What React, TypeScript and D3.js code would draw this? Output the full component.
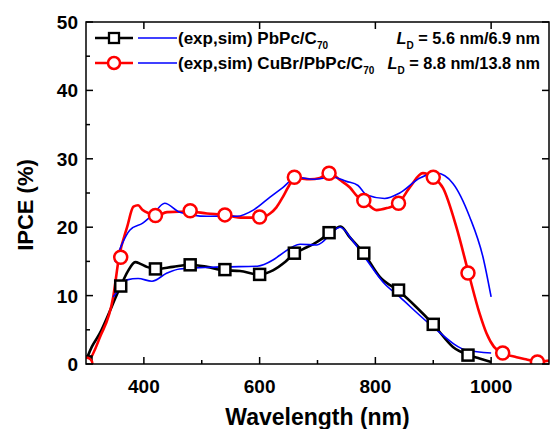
import React from "react";
import * as d3 from "d3";

// ---- Data ----
const blackExpWl = [300, 310, 324, 340, 350, 360, 372, 385, 395, 405, 421, 450, 480, 509, 538, 566, 599, 623, 645, 661, 675, 692, 704, 720, 740, 756, 780, 808, 840, 871, 900, 934, 961, 980, 1000];
const blackExpVal = [0.5, 2.5, 4.5, 7.5, 9.5, 11.4, 13.5, 14.9, 14.6, 14.2, 13.9, 14.2, 14.5, 14.2, 13.7, 13.6, 13.1, 13.7, 15.0, 16.2, 16.8, 17.5, 18.1, 19.1, 20.1, 18.5, 16.2, 12.7, 10.7, 8.3, 5.8, 2.5, 1.3, 0.8, 0.3];

const blackSimWl = [347, 359, 371, 390, 414, 440, 462, 537, 596, 623, 635, 670, 699, 739, 761, 785, 813, 842, 900, 958, 1000];
const blackSimVal = [9.8, 11.1, 12.3, 12.5, 12.1, 13.3, 13.9, 14.2, 14.3, 15.2, 15.9, 17.5, 17.4, 20.0, 18.0, 15.2, 12.0, 9.8, 5.4, 2.0, 1.6];

const redExpWl = [300, 305, 324, 347, 357, 371, 382, 390, 398, 410, 421, 440, 480, 509, 538, 571, 599, 618, 629, 640, 649, 661, 687, 704, 720, 739, 756, 770, 780, 802, 820, 840, 860, 882, 899, 917, 940, 961, 980, 992, 1005, 1020, 1044, 1060, 1080, 1100];
const redExpVal = [0.2, 0.5, 3.9, 9.8, 15.6, 20.0, 23.0, 23.2, 22.5, 22.0, 21.6, 22.2, 22.3, 22.0, 21.8, 21.4, 21.4, 22.0, 22.9, 24.4, 25.8, 27.2, 27.0, 27.2, 27.9, 26.9, 25.8, 24.4, 23.9, 22.5, 22.8, 23.5, 25.9, 27.9, 27.3, 25.7, 20.0, 13.3, 7.4, 4.5, 2.5, 1.6, 1.0, 0.7, 0.3, 0.5];

const redSimWl = [350, 362, 376, 398, 415, 436, 462, 509, 561, 589, 618, 640, 664, 692, 727, 750, 770, 785, 816, 842, 877, 906, 934, 963, 986, 1000];
const redSimVal = [14.9, 17.5, 19.6, 20.6, 21.8, 23.5, 22.2, 21.6, 21.6, 22.5, 24.4, 25.8, 27.3, 27.0, 27.3, 26.7, 26.1, 24.7, 24.2, 25.0, 27.2, 27.9, 26.4, 21.5, 15.6, 9.8];

const blackMarkWl = [300, 360, 420, 480, 540, 600, 660, 720, 780, 840, 900, 960];
const blackMarkVal = [0.3, 11.4, 13.9, 14.5, 13.8, 13.1, 16.2, 19.2, 16.2, 10.8, 5.8, 1.3];

const redMarkWl = [300, 360, 420, 480, 540, 600, 660, 720, 780, 840, 900, 960, 1020, 1080];
const redMarkVal = [0.0, 15.6, 21.7, 22.4, 21.8, 21.5, 27.3, 27.9, 23.9, 23.5, 27.3, 13.3, 1.6, 0.3];

const xMajorTicks = [400, 600, 800, 1000];
const xMinorTicks = [500, 700, 900];
const yMajorTicks = [0, 10, 20, 30, 40, 50];
const yMinorTicks = [5, 15, 25, 35, 45];

const xLabel = "Wavelength (nm)";
const yLabel = "IPCE (%)";

const W = 550;
const H = 429;
const L = 86, R = 549, T = 22, B = 364;

const BLACK = "#000000";
const RED = "#ff0000";
const BLUE = "#0000ff";
const FONT = "'Liberation Sans', Arial, Helvetica, sans-serif";

function zip(xs: number[], ys: number[]): [number, number][] {
  return xs.map((x, i) => [x, ys[i]]);
}

export default function App() {
  const x = d3.scaleLinear().domain([300, 1100]).range([L, R]);
  const y = d3.scaleLinear().domain([0, 50]).range([B, T]);
  const line = d3
    .line<[number, number]>()
    .x((d) => x(d[0]))
    .y((d) => y(d[1]))
    .curve(d3.curveMonotoneX);

  const blackExp = line(zip(blackExpWl, blackExpVal)) || "";
  const blackSim = line(zip(blackSimWl, blackSimVal)) || "";
  const redExp = line(zip(redExpWl, redExpVal)) || "";
  const redSim = line(zip(redSimWl, redSimVal)) || "";

  const sq = 11;
  const cr = 6.5;

  return (
    <svg
      width={W}
      height={H}
      viewBox={`0 0 ${W} ${H}`}
      style={{ position: "absolute", left: 0, top: 0, background: "#fff" }}
      fontFamily={FONT}
    >
      <defs>
        <clipPath id="plotclip">
          <rect x={L} y={T} width={R - L} height={B - T} />
        </clipPath>
      </defs>
      <rect x={0} y={0} width={W} height={H} fill="#fff" />

      <g clipPath="url(#plotclip)">
        <path d={blackExp} fill="none" stroke={BLACK} strokeWidth={2.6} strokeLinejoin="round" />
        <path d={redExp} fill="none" stroke={RED} strokeWidth={2.6} strokeLinejoin="round" />
        <path d={blackSim} fill="none" stroke={BLUE} strokeWidth={1.6} />
        <path d={redSim} fill="none" stroke={BLUE} strokeWidth={1.6} />
        {blackMarkWl.map((w, i) => (
          <rect
            key={"bm" + i}
            x={x(w) - sq / 2}
            y={y(blackMarkVal[i]) - sq / 2}
            width={sq}
            height={sq}
            fill="#fff"
            stroke={BLACK}
            strokeWidth={2.5}
          />
        ))}
        {redMarkWl.map((w, i) => (
          <circle
            key={"rm" + i}
            cx={x(w)}
            cy={y(redMarkVal[i])}
            r={cr}
            fill="#fff"
            stroke={RED}
            strokeWidth={2.5}
          />
        ))}
      </g>

      {/* frame */}
      <rect x={L} y={T} width={R - L} height={B - T} fill="none" stroke={BLACK} strokeWidth={1.5} />

      {/* ticks */}
      {xMajorTicks.map((t) => (
        <g key={"xt" + t}>
          <line x1={x(t)} x2={x(t)} y1={B} y2={B - 7} stroke={BLACK} strokeWidth={1.5} />
          <line x1={x(t)} x2={x(t)} y1={T} y2={T + 7} stroke={BLACK} strokeWidth={1.5} />
          <text x={x(t)} y={393} textAnchor="middle" fontSize={19} fontWeight="bold">
            {t}
          </text>
        </g>
      ))}
      {xMinorTicks.map((t) => (
        <line key={"xm" + t} x1={x(t)} x2={x(t)} y1={B} y2={B - 4} stroke={BLACK} strokeWidth={1.5} />
      ))}
      {yMajorTicks.map((t) => (
        <g key={"yt" + t}>
          <line x1={L} x2={L + 7} y1={y(t)} y2={y(t)} stroke={BLACK} strokeWidth={1.5} />
          <line x1={R} x2={R - 7} y1={y(t)} y2={y(t)} stroke={BLACK} strokeWidth={1.5} />
          <text x={78} y={y(t) + 7} textAnchor="end" fontSize={19} fontWeight="bold">
            {t}
          </text>
        </g>
      ))}
      {yMinorTicks.map((t) => (
        <line key={"ym" + t} x1={L} x2={L + 4} y1={y(t)} y2={y(t)} stroke={BLACK} strokeWidth={1.5} />
      ))}

      {/* axis labels */}
      <text x={(L + R) / 2} y={425} textAnchor="middle" fontSize={23} fontWeight="bold">
        {xLabel}
      </text>
      <text
        transform={`translate(33,205) rotate(-90)`}
        textAnchor="middle"
        fontSize={22}
        fontWeight="bold"
      >
        {yLabel}
      </text>

      {/* legend */}
      <g>
        <line x1={95} x2={133} y1={38} y2={38} stroke={BLACK} strokeWidth={2.6} />
        <rect x={114 - 5} y={38 - 5} width={10} height={10} fill="#fff" stroke={BLACK} strokeWidth={2.3} />
        <line x1={138} x2={177} y1={38} y2={38} stroke={BLUE} strokeWidth={1.6} />
        <text x={178} y={44} fontSize={17} fontWeight="bold">
          (exp,sim) PbPc/C<tspan fontSize={10} dy={5}>70</tspan>
        </text>
        <text x={540} y={44} fontSize={16.3} fontWeight="bold" textAnchor="end">
          <tspan fontStyle="italic">L</tspan>
          <tspan fontSize={10} dy={5}>D</tspan>
          <tspan dy={-5}> = 5.6 nm/6.9 nm</tspan>
        </text>

        <line x1={95} x2={133} y1={63} y2={63} stroke={RED} strokeWidth={2.6} />
        <circle cx={114} cy={63} r={6} fill="#fff" stroke={RED} strokeWidth={2.5} />
        <line x1={138} x2={177} y1={63} y2={63} stroke={BLUE} strokeWidth={1.6} />
        <text x={178} y={69} fontSize={17} fontWeight="bold">
          (exp,sim) CuBr/PbPc/C<tspan fontSize={10} dy={5}>70</tspan>
        </text>
        <text x={540} y={69} fontSize={16.3} fontWeight="bold" textAnchor="end">
          <tspan fontStyle="italic">L</tspan>
          <tspan fontSize={10} dy={5}>D</tspan>
          <tspan dy={-5}> = 8.8 nm/13.8 nm</tspan>
        </text>
      </g>
    </svg>
  );
}
